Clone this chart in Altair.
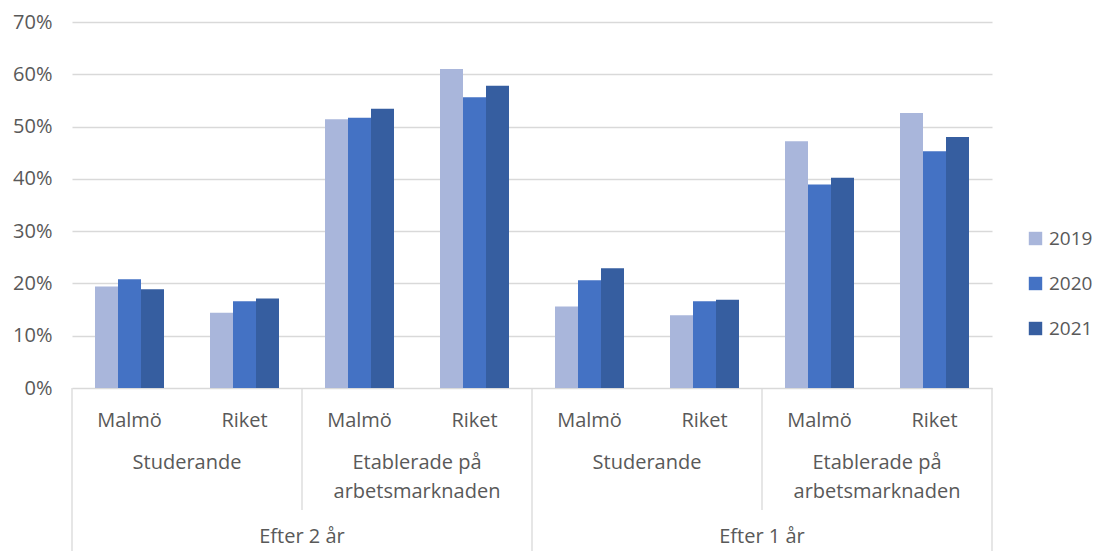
import altair as alt
import pandas as pd

periods = ["Efter 2 år", "Efter 1 år"]
statuses = ["Studerande", "Etablerade på\narbetsmarknaden"]
regions = ["Malmö", "Riket"]
years = ["2019", "2020", "2021"]
v2019 = [19.4, 14.4, 51.4, 61.0, 15.6, 13.9, 47.2, 52.6]
v2020 = [20.8, 16.6, 51.7, 55.6, 20.6, 16.6, 38.9, 45.3]
v2021 = [18.9, 17.1, 53.4, 57.8, 22.9, 16.9, 40.2, 48.0]
colors = ["#A9B6DB", "#4472C4", "#365EA0"]
y_ticks = [0, 10, 20, 30, 40, 50, 60, 70]

FONT = "Open Sans"
TXT = "#595959"
FS = 20
W, H = 920, 366
BOTTOM = 163

keys, region_lab = [], []
for p in periods:
    for s in statuses:
        for r in regions:
            keys.append(f"{p}|{s}|{r}")
            region_lab.append(r)

series = {"2019": v2019, "2020": v2020, "2021": v2021}
rows = []
for y in years:
    for k, v in zip(keys, series[y]):
        rows.append({"key": k, "year": y, "value": v})
df = pd.DataFrame(rows)

xscale = alt.Scale(domain=keys, paddingInner=0, paddingOuter=0)


def xenc(bp=None):
    if bp is None:
        return alt.X("key:N", scale=xscale, axis=None)
    return alt.X("key:N", scale=xscale, axis=None, bandPosition=bp)


bars = alt.Chart(df).mark_bar().encode(
    x=alt.X("key:N", scale=xscale,
            axis=alt.Axis(labels=False, ticks=False, title=None, grid=False,
                          domainColor="#d9d9d9", domainWidth=1.3)),
    xOffset=alt.XOffset("year:N", scale=alt.Scale(domain=years, paddingInner=0, paddingOuter=1)),
    y=alt.Y("value:Q", scale=alt.Scale(domain=[0, 70], nice=False),
            axis=alt.Axis(values=y_ticks, labelExpr="datum.value + '%'", title=None,
                          domain=False, ticks=False, labelPadding=20, labelFontSize=FS,
                          labelColor=TXT, labelFont=FONT, gridColor="#d9d9d9", gridWidth=1.3)),
    color=alt.Color("year:N", scale=alt.Scale(domain=years, range=colors),
                    legend=alt.Legend(title=None, orient="none", legendX=954, legendY=207,
                                      symbolType="square", symbolSize=180, symbolStrokeWidth=0,
                                      labelFontSize=19, labelFont=FONT, labelColor=TXT,
                                      rowPadding=25, labelOffset=4)),
)

# level 3 labels
df3 = pd.DataFrame({"key": keys, "label": region_lab})
lab3 = alt.Chart(df3).mark_text(fontSize=FS, font=FONT, color=TXT, baseline="middle").encode(
    x=xenc(), y=alt.value(H + 33), text="label:N")

# level 2 labels
df2 = pd.DataFrame({"key": [keys[i] for i in (0, 2, 4, 6)],
                    "label": [statuses[(i // 2) % 2] for i in (0, 2, 4, 6)]})
lab2 = alt.Chart(df2).mark_text(fontSize=FS, font=FONT, color=TXT, baseline="top",
                                lineBreak="\n", lineHeight=29).encode(
    x=xenc(1), y=alt.value(H + 65), text="label:N")

# level 1 labels
df1 = pd.DataFrame({"key": [keys[1], keys[5]], "label": periods})
lab1 = alt.Chart(df1).mark_text(fontSize=FS, font=FONT, color=TXT, baseline="middle").encode(
    x=xenc(1), y=alt.value(H + 149), text="label:N")

# separators
full_left = pd.DataFrame({"key": [keys[0], keys[4]]})
full_right = pd.DataFrame({"key": [keys[7]]})
mid_sep = pd.DataFrame({"key": [keys[2], keys[6]]})
rule_style = dict(color="#d9d9d9", strokeWidth=1.3)
r1 = alt.Chart(full_left).mark_rule(**rule_style).encode(
    x=xenc(0), y=alt.value(H), y2=alt.value(H + BOTTOM))
r2 = alt.Chart(full_right).mark_rule(**rule_style).encode(
    x=xenc(1), y=alt.value(H), y2=alt.value(H + BOTTOM))
r3 = alt.Chart(mid_sep).mark_rule(**rule_style).encode(
    x=xenc(0), y=alt.value(H), y2=alt.value(H + 122))

chart = alt.layer(bars, r1, r2, r3, lab3, lab2, lab1).properties(
    width=W, height=H,
    autosize=alt.AutoSizeParams(type="none"),
    padding={"left": 64, "top": 14, "right": 104, "bottom": BOTTOM},
).configure_view(stroke=None)

chart.save("out.html", embed_options={"renderer": "svg", "actions": False})
